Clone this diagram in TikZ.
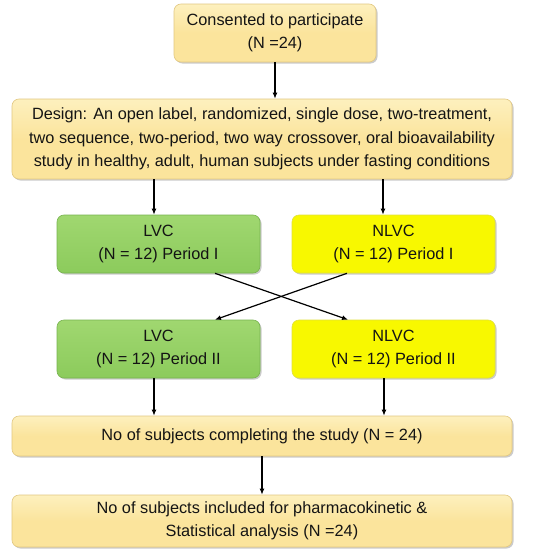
\documentclass[tikz,border=0pt]{standalone}
\usepackage{fontspec}
\setmainfont{Liberation Sans}
\usetikzlibrary{shadows,arrows.meta}
\definecolor{beige}{RGB}{251,228,156}
\definecolor{beigetop}{RGB}{253,240,190}
\definecolor{beigeedge}{RGB}{226,200,130}
\definecolor{greenf}{RGB}{140,203,92}
\definecolor{greentop}{RGB}{160,215,112}
\definecolor{greenedge}{RGB}{120,180,80}
\definecolor{yellowf}{RGB}{248,248,0}
\definecolor{yellowedge}{RGB}{225,225,60}
\tikzset{
  box/.style={rounded corners=7pt, align=center, inner sep=0pt,
    font=\fontsize{16.3}{23.5}\selectfont, text=black!92,
    drop shadow={shadow xshift=1.5pt, shadow yshift=-1.5pt, fill=black!45, opacity=0.45}},
  beigebox/.style={box, draw=beigeedge, line width=0.6pt, top color=beigetop, bottom color=beige, middle color=beige},
  greenbox/.style={box, draw=greenedge, line width=0.6pt, top color=greentop, bottom color=greenf},
  yellowbox/.style={box, draw=yellowedge, line width=0.6pt, fill=yellowf},
  arr/.style={-{Latex[length=6pt,width=5pt]}, line width=1.2pt, black},
}
\begin{document}
\begin{tikzpicture}[x=1pt,y=-1pt]
\useasboundingbox[fill=white] (0,0) rectangle (538,554);
\node[beigebox, minimum width=202pt, minimum height=58pt] (consent) at (275,33) {Consented to participate\\(N =24)};
\node[beigebox, minimum width=500pt, minimum height=80pt] (design) at (262,139) {Design: An open label, randomized, single dose, two-treatment,\\two sequence, two-period, two way crossover, oral bioavailability\\study in healthy, adult, human subjects under fasting conditions};
\node[greenbox, minimum width=203pt, minimum height=58pt] (lvc1) at (158.5,244) {LVC\\(N = 12) Period I};
\node[yellowbox, minimum width=203pt, minimum height=58pt] (nlvc1) at (393.5,244) {NLVC\\(N = 12) Period I};
\node[greenbox, minimum width=203pt, minimum height=58pt] (lvc2) at (158.5,349) {LVC\\(N = 12) Period II};
\node[yellowbox, minimum width=203pt, minimum height=58pt] (nlvc2) at (393.5,349) {NLVC\\(N = 12) Period II};
\node[beigebox, minimum width=500pt, minimum height=40pt] (complete) at (262,436) {No of subjects completing the study (N = 24)};
\node[beigebox, minimum width=500pt, minimum height=52pt] (final) at (262,521) {No of subjects included for pharmacokinetic \&\\Statistical analysis (N =24)};
\draw[arr] (consent.south) -- (design.north -| consent.south);
\draw[arr] (design.south -| 154,0) -- (lvc1.north -| 154,0);
\draw[arr] (design.south -| 383,0) -- (nlvc1.north -| 383,0);
\coordinate (c1) at (215,273); \coordinate (c2) at (348,318);
\coordinate (c3) at (347,273); \coordinate (c4) at (215,318);
\draw[arr] (lvc1.south -| c1) -- (nlvc2.north -| c2);
\draw[arr] (nlvc1.south -| c3) -- (lvc2.north -| c4);
\draw[arr] (lvc2.south -| 154,0) -- (complete.north -| 154,0);
\draw[arr] (nlvc2.south -| 384,0) -- (complete.north -| 384,0);
\draw[arr] (complete.south) -- (final.north);
\end{tikzpicture}
\end{document}
